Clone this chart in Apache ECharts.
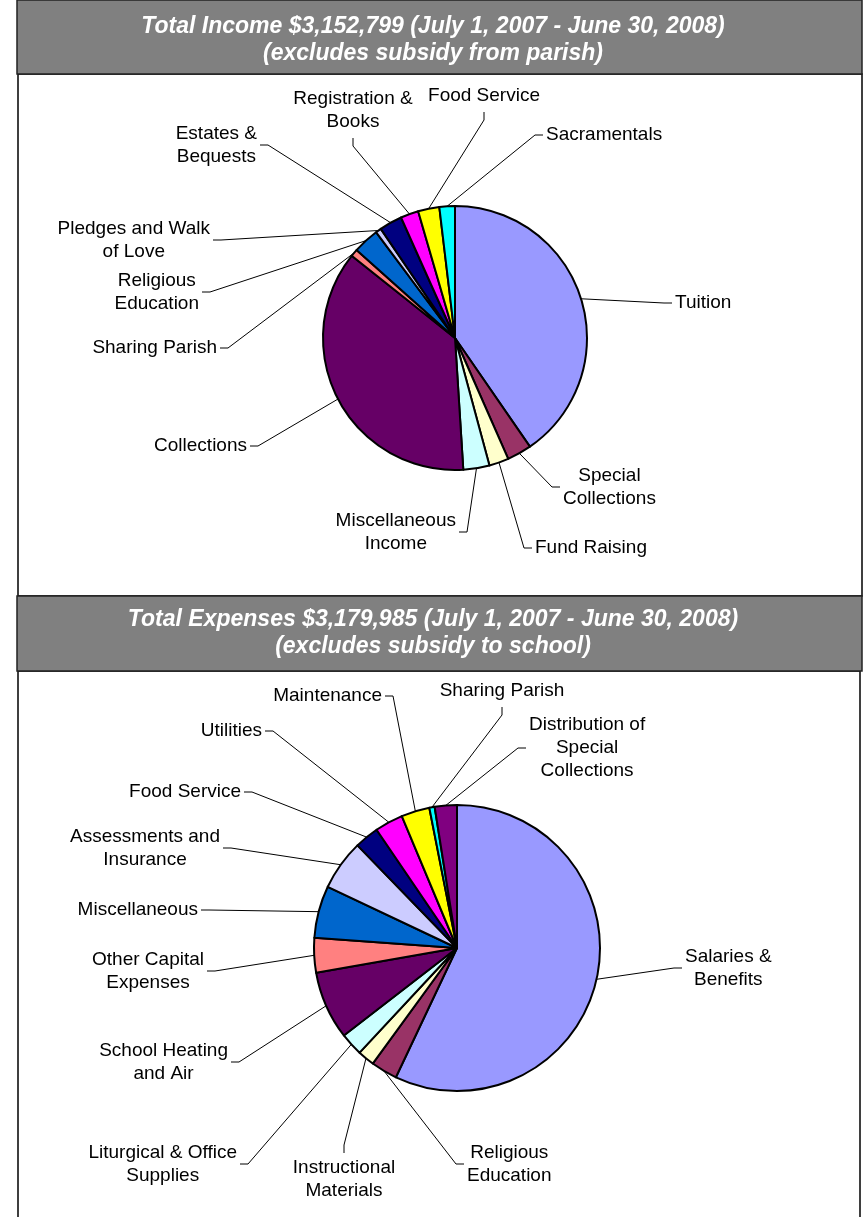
<!DOCTYPE html>
<html>
<head>
<meta charset="utf-8">
<title>Income and Expenses 2007-2008</title>
<script src="https://cdn.jsdelivr.net/npm/echarts@6/dist/echarts.min.js"></script>
<style>
    html, body { margin: 0; padding: 0; background: #fff; }
    #chart { width: 865px; height: 1217px; }
</style>
</head>
<body>
<div id="chart"></div>
<script>
    // income slices, clockwise from 12 o'clock (dollars)
    const incomeNames = ['Tuition', 'Special\nCollections', 'Fund Raising', 'Miscellaneous\nIncome',
        'Collections', 'Sharing Parish', 'Religious\nEducation', 'Pledges and Walk\nof Love',
        'Estates &\nBequests', 'Registration &\nBooks', 'Food Service', 'Sacramentals'];
    const incomeValues = [1273700, 94600, 75700, 100900, 1157100, 28400, 100900, 22100, 88300, 69400, 82000, 59900];

    // expense slices, clockwise from 12 o'clock
    const expenseNames = ['Salaries &\nBenefits', 'Religious\nEducation', 'Instructional\nMaterials',
        'Liturgical & Office\nSupplies', 'School Heating\nand Air', 'Other Capital\nExpenses', 'Miscellaneous',
        'Assessments and\nInsurance', 'Food Service', 'Utilities', 'Maintenance', 'Sharing Parish',
        'Distribution of\nSpecial\nCollections'];
    const expenseValues = [1812600, 95400, 60400, 82700, 244900, 124000, 187600, 181300, 87400, 101800, 101800, 19100, 79500];

    const incomeTitle = 'Total Income $3,152,799 (July 1, 2007 - June 30, 2008)\n(excludes subsidy from parish)';
    const expenseTitle = 'Total Expenses $3,179,985 (July 1, 2007 - June 30, 2008)\n(excludes subsidy to school)';

    // old excel chart palette
    const palette = ['#9999FF', '#993366', '#FFFFCC', '#CCFFFF', '#660066', '#FF8080', '#0066CC',
        '#CCCCFF', '#000080', '#FF00FF', '#FFFF00', '#00FFFF', '#800080'];

    const FONT = '"Liberation Sans", Arial, sans-serif';

    // where each leader line meets its label: side of the label, offset from pie centre
    const incomeSpots = [['r', 217, -35], ['r', 105, 149], ['r', 77, 210], ['l', 4, 194],
        ['l', -205, 108], ['l', -235, 10], ['l', -253, -46], ['l', -242, -98],
        ['l', -195, -193], ['t', -102, -200], ['t', 29, -226], ['r', 88, -203]];
    const expenseSpots = [['r', 225, 20], ['r', 7, 216], ['b', -113, 205], ['l', -217, 216],
        ['l', -226, 114], ['l', -250, 23], ['l', -256, -38], ['l', -234, -100],
        ['l', -213, -156], ['l', -192, -217], ['l', -72, -252], ['t', 45, -241], ['r', 69, -200]];

    function leaderLayout(spots, cx, cy) {
        return function (p) {
            let s = spots[p.dataIndex];
            let ax = cx + s[1], ay = cy + s[2];
            let w = p.labelRect.width, h = p.labelRect.height;
            let x = ax, y = ay, ex = ax, ey = ay;
            if (s[0] === 'r') { x = ax + 3 + w / 2; ex = ax - 8; }
            else if (s[0] === 'l') { x = ax - 3 - w / 2; ex = ax + 8; }
            else if (s[0] === 't') { y = ay - 5 - h / 2; ey = ay + 8; }
            else { y = ay + 3 + h / 2; ey = ay - 8; }
            return {
                x: x, y: y, align: 'center', verticalAlign: 'middle',
                labelLinePoints: [p.labelLinePoints[0], [ex, ey], [ax, ay]]
            };
        };
    }

    function pieSeries(names, values, spots, cx, cy, r) {
        return {
            type: 'pie',
            center: [cx, cy],
            radius: r,
            startAngle: 90,
            clockwise: true,
            avoidLabelOverlap: false,
            emphasis: { disabled: true },
            itemStyle: { borderColor: '#000', borderWidth: 2 },
            label: {
                show: true,
                position: 'outside',
                formatter: '{b}',
                color: '#000',
                fontFamily: FONT,
                fontSize: 19,
                lineHeight: 23
            },
            labelLine: { show: true, length: 10, length2: 10, lineStyle: { color: '#000', width: 1 } },
            labelLayout: leaderLayout(spots, cx, cy),
            data: names.map(function (n, i) {
                return { name: n, value: values[i], itemStyle: { color: palette[i] } };
            })
        };
    }

    function header(y, h, textY, text) {
        return [{
            type: 'rect',
            shape: { x: 17, y: y, width: 845, height: h },
            style: { fill: '#808080', stroke: '#222', lineWidth: 1.5 }
        }, {
            type: 'text',
            x: 433, y: textY,
            style: {
                text: text, fill: '#fff', align: 'center', verticalAlign: 'middle',
                font: 'italic bold 23px ' + FONT, lineHeight: 27
            }
        }];
    }

    let myChart = echarts.init(document.getElementById('chart'));
    let option = {
        animation: false,
        backgroundColor: '#fff',
        graphic: [
            { type: 'rect', shape: { x: 18, y: 74, width: 844, height: 522 }, style: { fill: 'none', stroke: '#000', lineWidth: 1.5 } },
            { type: 'rect', shape: { x: 18, y: 671, width: 842, height: 600 }, style: { fill: 'none', stroke: '#000', lineWidth: 1.5 } }
        ].concat(header(0, 74, 40, incomeTitle), header(596, 75, 633, expenseTitle)),
        series: [
            pieSeries(incomeNames, incomeValues, incomeSpots, 455, 338, 132),
            pieSeries(expenseNames, expenseValues, expenseSpots, 457, 948, 143)
        ]
    };
    myChart.setOption(option);
</script>
</body>
</html>
